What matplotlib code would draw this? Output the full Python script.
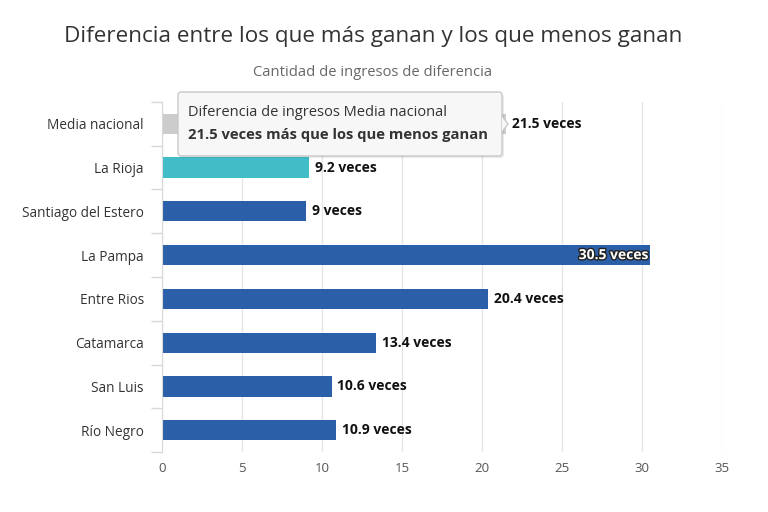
import matplotlib.pyplot as plt
import matplotlib.patheffects as pe
from matplotlib.patches import FancyBboxPatch, Polygon

plt.rcParams['font.family'] = ['Open Sans', 'DejaVu Sans']

# data
categorias = ['Media nacional', 'La Rioja', 'Santiago del Estero', 'La Pampa',
              'Entre Rios', 'Catamarca', 'San Luis', 'Río Negro']
veces = [21.5, 9.2, 9, 30.5, 20.4, 13.4, 10.6, 10.9]
colores = ['#cccccc', '#41bdc8', '#2b5fa8', '#2b5fa8', '#2b5fa8', '#2b5fa8', '#2b5fa8', '#2b5fa8']
ticks_x = [0, 5, 10, 15, 20, 25, 30, 35]

fig = plt.figure(figsize=(7.68, 5.12), dpi=100)
ax = fig.add_axes([0.211, 0.117, 0.729, 0.684])

y = list(range(len(categorias)))
ax.barh(y, veces, height=0.46, color=colores, zorder=2)
ax.set_ylim(len(categorias) - 0.5, -0.5)
ax.set_xlim(0, 35)
ax.set_xticks(ticks_x)
ax.set_xticklabels([str(t) for t in ticks_x], color='#555555', fontsize=9.5)
ax.set_yticks(y)
ax.set_yticklabels(categorias, color='#333333', fontsize=9.8)
ax.tick_params(axis='x', length=0, pad=7)
ax.tick_params(axis='y', length=0, pad=13)
# small ticks between categories
ax.set_yticks([i + 0.5 for i in range(-1, len(categorias))], minor=True)
ax.tick_params(axis='y', which='minor', length=8, color='#d8d8d8', width=1)
ax.grid(axis='x', color='#e6e6e6', linewidth=1, zorder=0)
for s in ['top', 'right', 'bottom']:
    ax.spines[s].set_visible(False)
ax.spines['left'].set_color('#d8d8d8')

for i, v in enumerate(veces):
    txt = f'{v:g} veces'
    if v > 30:
        ax.text(v - 0.1, i, txt, ha='right', va='center', fontsize=10, fontweight='bold',
                color='white', zorder=4,
                path_effects=[pe.withStroke(linewidth=2, foreground='#222222')])
    else:
        ax.text(v + 0.35, i, txt, ha='left', va='center', fontsize=10, fontweight='bold',
                color='#111111', zorder=4)

fig.text(0.486, 0.928, 'Diferencia entre los que más ganan y los que menos ganan',
         ha='center', va='center', fontsize=16.2, color='#333333')
fig.text(0.485, 0.858, 'Cantidad de ingresos de diferencia',
         ha='center', va='center', fontsize=10.6, color='#666666')

# tooltip
box = FancyBboxPatch((178, 512 - 156), 324, 64, boxstyle='round,pad=0,rounding_size=3',
                     transform=None, facecolor='#f7f7f7', edgecolor='#c8c8c8',
                     linewidth=1, zorder=5)
shadow = FancyBboxPatch((180, 512 - 158), 324, 64, boxstyle='round,pad=0,rounding_size=3',
                        transform=None, facecolor='#000000', alpha=0.08,
                        edgecolor='none', zorder=4.5)
fig.patches.extend([shadow, box])
arrow = Polygon([[502, 512 - 116], [508, 512 - 124], [502, 512 - 132]], closed=False,
                transform=None, facecolor='#f7f7f7', edgecolor='#c8c8c8', linewidth=1, zorder=6)
fig.patches.append(arrow)
fig.text(188 / 768, 1 - 112 / 512, 'Diferencia de ingresos Media nacional',
         ha='left', va='center', fontsize=10.5, color='#333333', zorder=7)
fig.text(188 / 768, 1 - 135 / 512, '21.5 veces más que los que menos ganan',
         ha='left', va='center', fontsize=10.6, fontweight='bold', color='#333333', zorder=7)

fig.savefig('out.png', dpi=100)
